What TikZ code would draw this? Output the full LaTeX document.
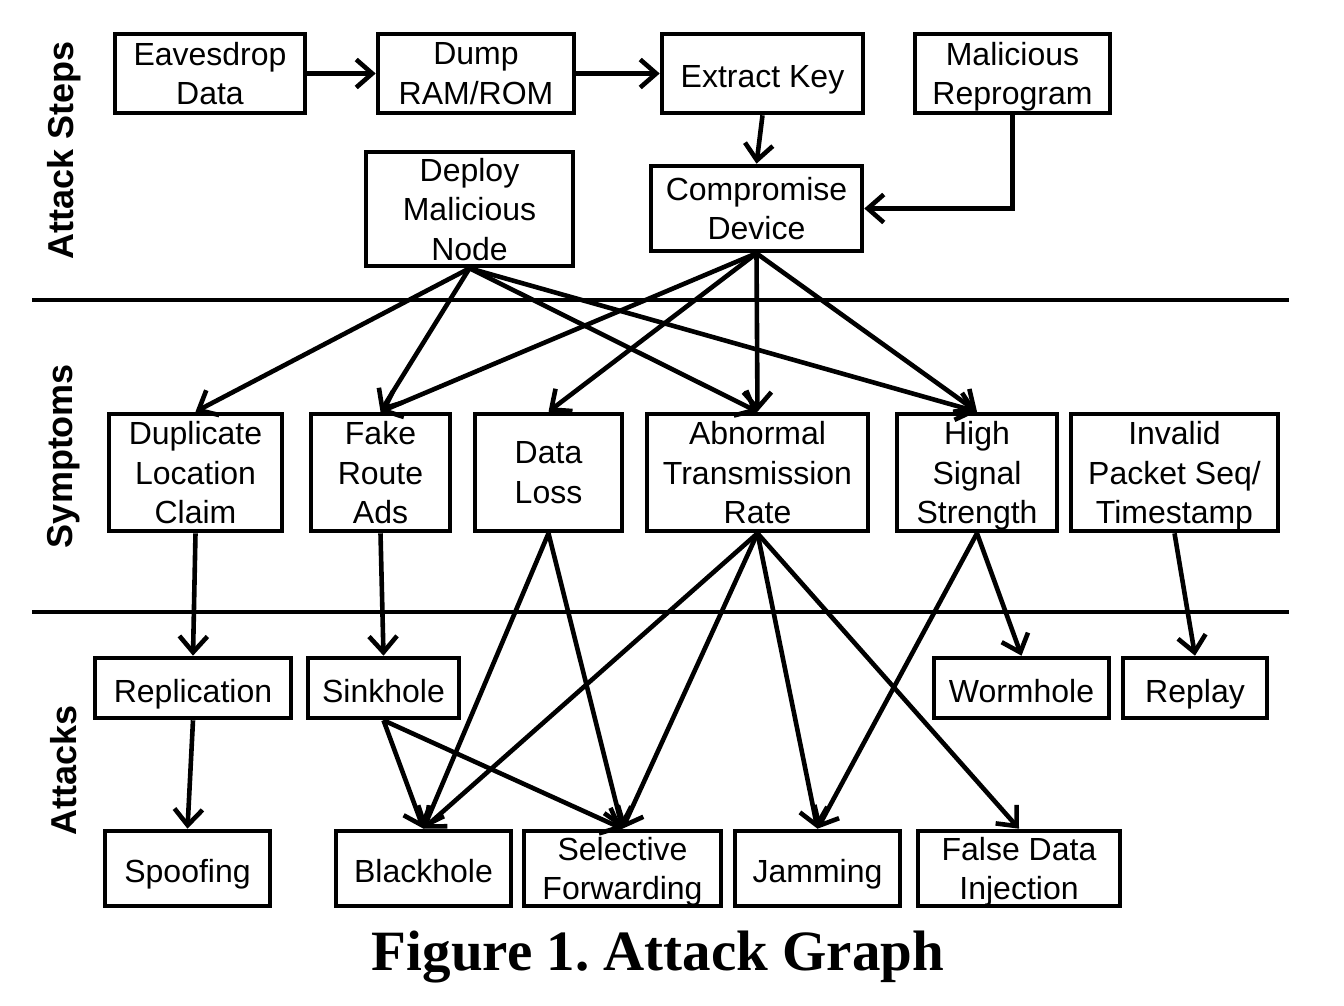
\documentclass[tikz,border=0pt]{standalone}
\usepackage{fontspec}
\setmainfont{Liberation Sans}
\newfontfamily\captionfont{Liberation Serif}
\usetikzlibrary{arrows.meta}

\newcommand\boxstrut{\rule{0pt}{28pt}}

\tikzset{
  box/.style={draw, align=center, inner sep=0pt, font=\fontsize{32}{39.5}\selectfont,
    text depth=0pt, execute at begin node=\boxstrut},
  lane/.style={rotate=90, font=\bfseries\fontsize{36}{40}\selectfont},
  edge/.style={-{Straight Barb[length=16pt,width=28pt]}}
}

\begin{document}
\begin{tikzpicture}[x=1pt, y=-1pt, line width=4.6pt]
\useasboundingbox (0,0) rectangle (1344,1006);

% lanes
\node[lane] (steps) at (64,150) {Attack Steps};
\node[lane] (symp) at (64,456) {Symptoms};
\node[lane] (atk) at (64,770) {Attacks};
\coordinate (l1a) at (32,300);
\coordinate (l1b) at (1289,300);
\coordinate (l2a) at (32,612);
\coordinate (l2b) at (1289,612);
\draw (l1a) -- (l1b);
\draw (l2a) -- (l2b);

\begin{scope}[every node/.style={box}]
% attack steps
\node[minimum width=190pt, minimum height=79pt] (eaves) at (210,73.5) {Eavesdrop\\Data};
\node[minimum width=196pt, minimum height=79pt] (dump) at (476,73.5) {Dump\\RAM/ROM};
\node[minimum width=201pt, minimum height=79pt] (key) at (762.5,73.5) {Extract Key};
\node[minimum width=195pt, minimum height=79pt] (reprog) at (1012.5,73.5) {Malicious\\Reprogram};
\node[minimum width=207pt, minimum height=114pt] (deploy) at (469.5,209) {Deploy\\Malicious\\Node};
\node[minimum width=211pt, minimum height=85pt] (comp) at (756.5,208.5) {Compromise\\Device};
% symptoms
\node[minimum width=173pt, minimum height=117pt] (dup) at (195.5,472.5) {Duplicate\\Location\\Claim};
\node[minimum width=139pt, minimum height=117pt] (fake) at (380.5,472.5) {Fake\\Route\\Ads};
\node[minimum width=147pt, minimum height=117pt] (loss) at (548.5,472.5) {Data\\Loss};
\node[minimum width=221pt, minimum height=117pt] (rate) at (757.5,472.5) {Abnormal\\Transmission\\Rate};
\node[minimum width=160pt, minimum height=117pt] (rssi) at (977,472.5) {High\\Signal\\Strength};
\node[minimum width=207pt, minimum height=117pt] (seq) at (1174.5,472.5) {Invalid\\Packet Seq/\\Timestamp};
% attacks
\node[minimum width=196pt, minimum height=60pt] (repl) at (193,688) {Replication};
\node[minimum width=151pt, minimum height=60pt] (sink) at (383.5,688) {Sinkhole};
\node[minimum width=175pt, minimum height=60pt] (worm) at (1021.5,688) {Wormhole};
\node[minimum width=144pt, minimum height=60pt] (replay) at (1195,688) {Replay};
\node[minimum width=165pt, minimum height=75pt] (spoof) at (187.5,868.5) {Spoofing};
\node[minimum width=175pt, minimum height=75pt] (black) at (423.5,868.5) {Blackhole};
\node[minimum width=197pt, minimum height=75pt] (selfwd) at (622.5,868.5) {Selective\\Forwarding};
\node[minimum width=165pt, minimum height=75pt] (jam) at (817.5,868.5) {Jamming};
\node[minimum width=202pt, minimum height=75pt] (fdi) at (1019,868.5) {False Data\\Injection};
\end{scope}

\node[font=\captionfont\bfseries\fontsize{57}{60}\selectfont] (title) at (658,957) {Figure 1.~Attack Graph};

% steps
\draw[edge] (eaves) -- (dump);
\draw[edge] (dump) -- (key);
\draw[edge] (key.south) -- (comp.north);
\draw[edge] (reprog.south) |- (comp.east);
\foreach \t in {dup,fake,rate,rssi}
  \draw[edge] (deploy.south) -- (\t.north);
\foreach \t in {fake,loss,rate,rssi}
  \draw[edge] (comp.south) -- (\t.north);

% symptoms to attacks
\draw[edge] (dup.south) -- (repl.north);
\draw[edge] (fake.south) -- (sink.north);
\draw[edge] (loss.south) -- (black.north);
\draw[edge] (loss.south) -- (selfwd.north);
\foreach \t in {black,selfwd,jam,fdi}
  \draw[edge] (rate.south) -- (\t.north);
\draw[edge] (rssi.south) -- (worm.north);
\draw[edge] (rssi.south) -- (jam.north);
\draw[edge] (seq.south) -- (replay.north);

% attacks to attacks
\draw[edge] (repl.south) -- (spoof.north);
\draw[edge] (sink.south) -- (black.north);
\draw[edge] (sink.south) -- (selfwd.north);
\end{tikzpicture}
\end{document}
